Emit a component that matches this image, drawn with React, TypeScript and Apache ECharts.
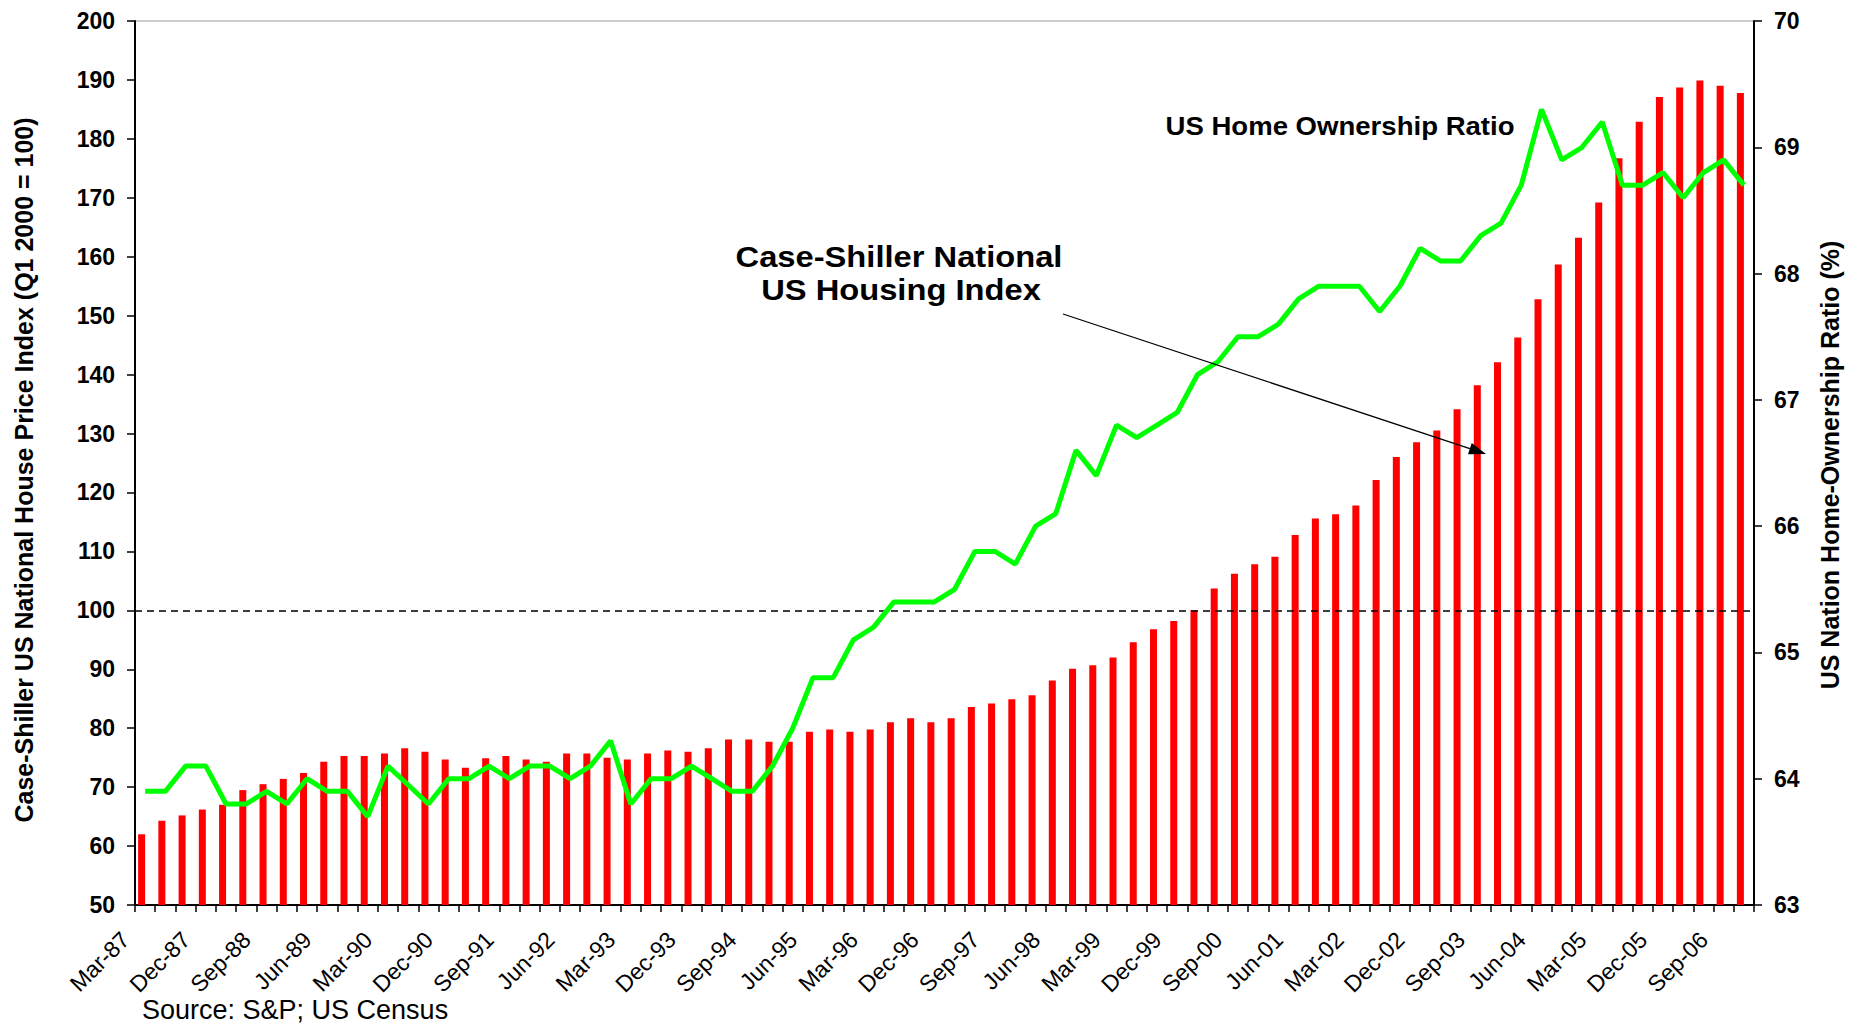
import React, { useEffect, useRef } from "react";
import * as echarts from "echarts";

const QUARTERS: string[] = [
  "Mar-87", "Jun-87", "Sep-87", "Dec-87",
  "Mar-88", "Jun-88", "Sep-88", "Dec-88",
  "Mar-89", "Jun-89", "Sep-89", "Dec-89",
  "Mar-90", "Jun-90", "Sep-90", "Dec-90",
  "Mar-91", "Jun-91", "Sep-91", "Dec-91",
  "Mar-92", "Jun-92", "Sep-92", "Dec-92",
  "Mar-93", "Jun-93", "Sep-93", "Dec-93",
  "Mar-94", "Jun-94", "Sep-94", "Dec-94",
  "Mar-95", "Jun-95", "Sep-95", "Dec-95",
  "Mar-96", "Jun-96", "Sep-96", "Dec-96",
  "Mar-97", "Jun-97", "Sep-97", "Dec-97",
  "Mar-98", "Jun-98", "Sep-98", "Dec-98",
  "Mar-99", "Jun-99", "Sep-99", "Dec-99",
  "Mar-00", "Jun-00", "Sep-00", "Dec-00",
  "Mar-01", "Jun-01", "Sep-01", "Dec-01",
  "Mar-02", "Jun-02", "Sep-02", "Dec-02",
  "Mar-03", "Jun-03", "Sep-03", "Dec-03",
  "Mar-04", "Jun-04", "Sep-04", "Dec-04",
  "Mar-05", "Jun-05", "Sep-05", "Dec-05",
  "Mar-06", "Jun-06", "Sep-06", "Dec-06",
];

// Case-Shiller National US House Price Index (Q1 2000 = 100), left axis
const HOUSE_PRICE_INDEX: number[] = [
  62.0, 64.3, 65.2, 66.2, 67.0, 69.5, 70.5, 71.4, 72.4, 74.3,
  75.3, 75.3, 75.7, 76.6, 76.0, 74.7, 73.3, 74.9, 75.3, 74.7,
  74.3, 75.7, 75.7, 75.0, 74.7, 75.7, 76.2, 76.0, 76.6, 78.1,
  78.1, 77.7, 77.7, 79.4, 79.8, 79.4, 79.8, 81.0, 81.7, 81.0,
  81.7, 83.6, 84.2, 84.9, 85.6, 88.1, 90.1, 90.7, 92.0, 94.6,
  96.8, 98.2, 100.0, 103.7, 106.2, 107.8, 109.1, 112.8, 115.6, 116.3,
  117.8, 122.1, 126.0, 128.5, 130.5, 134.1, 138.2, 142.1, 146.3, 152.8,
  158.7, 163.2, 169.2, 176.7, 182.9, 187.1, 188.7, 189.9, 189.0, 187.8,
];

// US home-ownership ratio (%), right axis
const OWNERSHIP_RATIO: number[] = [
  63.9, 63.9, 64.1, 64.1, 63.8, 63.8, 63.9, 63.8, 64.0, 63.9,
  63.9, 63.7, 64.1, 63.95, 63.8, 64.0, 64.0, 64.1, 64.0, 64.1,
  64.1, 64.0, 64.1, 64.3, 63.8, 64.0, 64.0, 64.1, 64.0, 63.9,
  63.9, 64.1, 64.4, 64.8, 64.8, 65.1, 65.2, 65.4, 65.4, 65.4,
  65.5, 65.8, 65.8, 65.7, 66.0, 66.1, 66.6, 66.4, 66.8, 66.7,
  66.8, 66.9, 67.2, 67.3, 67.5, 67.5, 67.6, 67.8, 67.9, 67.9,
  67.9, 67.7, 67.9, 68.2, 68.1, 68.1, 68.3, 68.4, 68.7, 69.3,
  68.9, 69.0, 69.2, 68.7, 68.7, 68.8, 68.6, 68.8, 68.9, 68.7,
];

const REFERENCE_LEVEL = 100;

const LEFT_AXIS_TITLE = "Case-Shiller US National House Price Index (Q1 2000 = 100)";
const RIGHT_AXIS_TITLE = "US Nation Home-Ownership Ratio (%)";
const HPI_NOTE_LINE1 = "Case-Shiller National";
const HPI_NOTE_LINE2 = "US Housing Index";
const OWNERSHIP_NOTE = "US Home Ownership Ratio";
const SOURCE_NOTE = "Source: S&P; US Census";

const FONT = "'Liberation Sans', Arial, Helvetica, sans-serif";

function arrowHead(x1: number, y1: number, x2: number, y2: number, len: number, half: number) {
  const dx = x2 - x1;
  const dy = y2 - y1;
  const d = Math.sqrt(dx * dx + dy * dy);
  const ux = dx / d;
  const uy = dy / d;
  const bx = x2 - ux * len;
  const by = y2 - uy * len;
  return {
    base: [bx, by],
    points: [
      [x2, y2],
      [bx - uy * half, by + ux * half],
      [bx + uy * half, by - ux * half],
    ],
  };
}

export default function App() {
  const ref = useRef<HTMLDivElement | null>(null);

  useEffect(() => {
    if (!ref.current) return;
    const chart = echarts.init(ref.current, undefined, { renderer: "svg" });

    const ax1 = 1063, ay1 = 314, ax2 = 1486, ay2 = 454;
    const head = arrowHead(ax1, ay1, ax2, ay2, 17, 6);

    const option: any = {
      animation: false,
      backgroundColor: "#ffffff",
      grid: {
        left: 135,
        right: 106,
        top: 21,
        bottom: 124,
        show: true,
        borderColor: "#9a9a9a",
        borderWidth: 1,
        backgroundColor: "transparent",
      },
      xAxis: {
        type: "category",
        data: QUARTERS,
        boundaryGap: true,
        axisLine: { show: true, onZero: false, lineStyle: { color: "#000", width: 2 } },
        axisTick: { show: true, interval: 0, length: 7, lineStyle: { color: "#000", width: 1.5 } },
        axisLabel: {
          interval: 2,
          rotate: 45,
          margin: 11,
          padding: [0, 28, 0, 0],
          fontSize: 23,
          fontFamily: FONT,
          color: "#000",
        },
        splitLine: { show: false },
      },
      yAxis: [
        {
          type: "value",
          min: 50,
          max: 200,
          interval: 10,
          position: "left",
          axisLine: { show: true, lineStyle: { color: "#000", width: 2 } },
          axisTick: { show: true, length: 8, lineStyle: { color: "#000", width: 1.5 } },
          axisLabel: { margin: 20, fontSize: 23, fontWeight: "bold", fontFamily: FONT, color: "#000" },
          splitLine: { show: false },
        },
        {
          type: "value",
          min: 63,
          max: 70,
          interval: 1,
          position: "right",
          axisLine: { show: true, lineStyle: { color: "#000", width: 2 } },
          axisTick: { show: true, length: 8, lineStyle: { color: "#000", width: 1.5 } },
          axisLabel: { margin: 20, fontSize: 23, fontWeight: "bold", fontFamily: FONT, color: "#000" },
          splitLine: { show: false },
        },
      ],
      series: [
        {
          name: "Case-Shiller National US Housing Index",
          type: "bar",
          yAxisIndex: 0,
          data: HOUSE_PRICE_INDEX,
          barWidth: 7,
          barGap: "0%",
          itemStyle: { color: "#ff0000" },
          markLine: {
            silent: true,
            symbol: ["none", "none"],
            label: { show: false },
            lineStyle: { color: "#000", type: [7, 5], width: 1.5 },
            data: [{ yAxis: REFERENCE_LEVEL }],
          },
        },
        {
          name: "spacer",
          type: "bar",
          yAxisIndex: 0,
          data: [],
          barWidth: 7,
          barGap: "0%",
        },
        {
          name: "US Home Ownership Ratio",
          type: "line",
          yAxisIndex: 1,
          data: OWNERSHIP_RATIO,
          symbol: "none",
          showSymbol: false,
          lineStyle: { color: "#00ff00", width: 5 },
          z: 5,
        },
      ],
      graphic: [
        {
          type: "text",
          x: 24,
          y: 470,
          rotation: Math.PI / 2,
          z: 100,
          style: {
            text: LEFT_AXIS_TITLE,
            fontSize: 25,
            fontWeight: "bold",
            fontFamily: FONT,
            fill: "#000",
            align: "center",
            verticalAlign: "middle",
          },
        },
        {
          type: "text",
          x: 1830,
          y: 465,
          rotation: Math.PI / 2,
          z: 100,
          style: {
            text: RIGHT_AXIS_TITLE,
            fontSize: 25,
            fontWeight: "bold",
            fontFamily: FONT,
            fill: "#000",
            align: "center",
            verticalAlign: "middle",
          },
        },
        {
          type: "text",
          x: 899,
          y: 257,
          scaleX: 1.09,
          z: 100,
          style: {
            text: HPI_NOTE_LINE1,
            fontSize: 30,
            fontWeight: "bold",
            fontFamily: FONT,
            fill: "#000",
            align: "center",
            verticalAlign: "middle",
          },
        },
        {
          type: "text",
          x: 901,
          y: 290,
          scaleX: 1.09,
          z: 100,
          style: {
            text: HPI_NOTE_LINE2,
            fontSize: 30,
            fontWeight: "bold",
            fontFamily: FONT,
            fill: "#000",
            align: "center",
            verticalAlign: "middle",
          },
        },
        {
          type: "text",
          x: 1340,
          y: 126,
          scaleX: 1.06,
          z: 100,
          style: {
            text: OWNERSHIP_NOTE,
            fontSize: 26,
            fontWeight: "bold",
            fontFamily: FONT,
            fill: "#000",
            align: "center",
            verticalAlign: "middle",
          },
        },
        {
          type: "line",
          z: 100,
          shape: { x1: ax1, y1: ay1, x2: head.base[0], y2: head.base[1] },
          style: { stroke: "#000", lineWidth: 1.3 },
        },
        {
          type: "polygon",
          z: 100,
          shape: { points: head.points },
          style: { fill: "#000" },
        },
        {
          type: "text",
          x: 142,
          y: 1010,
          z: 100,
          style: {
            text: SOURCE_NOTE,
            fontSize: 27,
            fontFamily: FONT,
            fill: "#000",
            align: "left",
            verticalAlign: "middle",
          },
        },
      ],
    };

    chart.setOption(option);
    return () => {
      chart.dispose();
    };
  }, []);

  return (
    <div
      ref={ref}
      style={{ position: "absolute", left: 0, top: 0, width: 1860, height: 1029 }}
    />
  );
}
